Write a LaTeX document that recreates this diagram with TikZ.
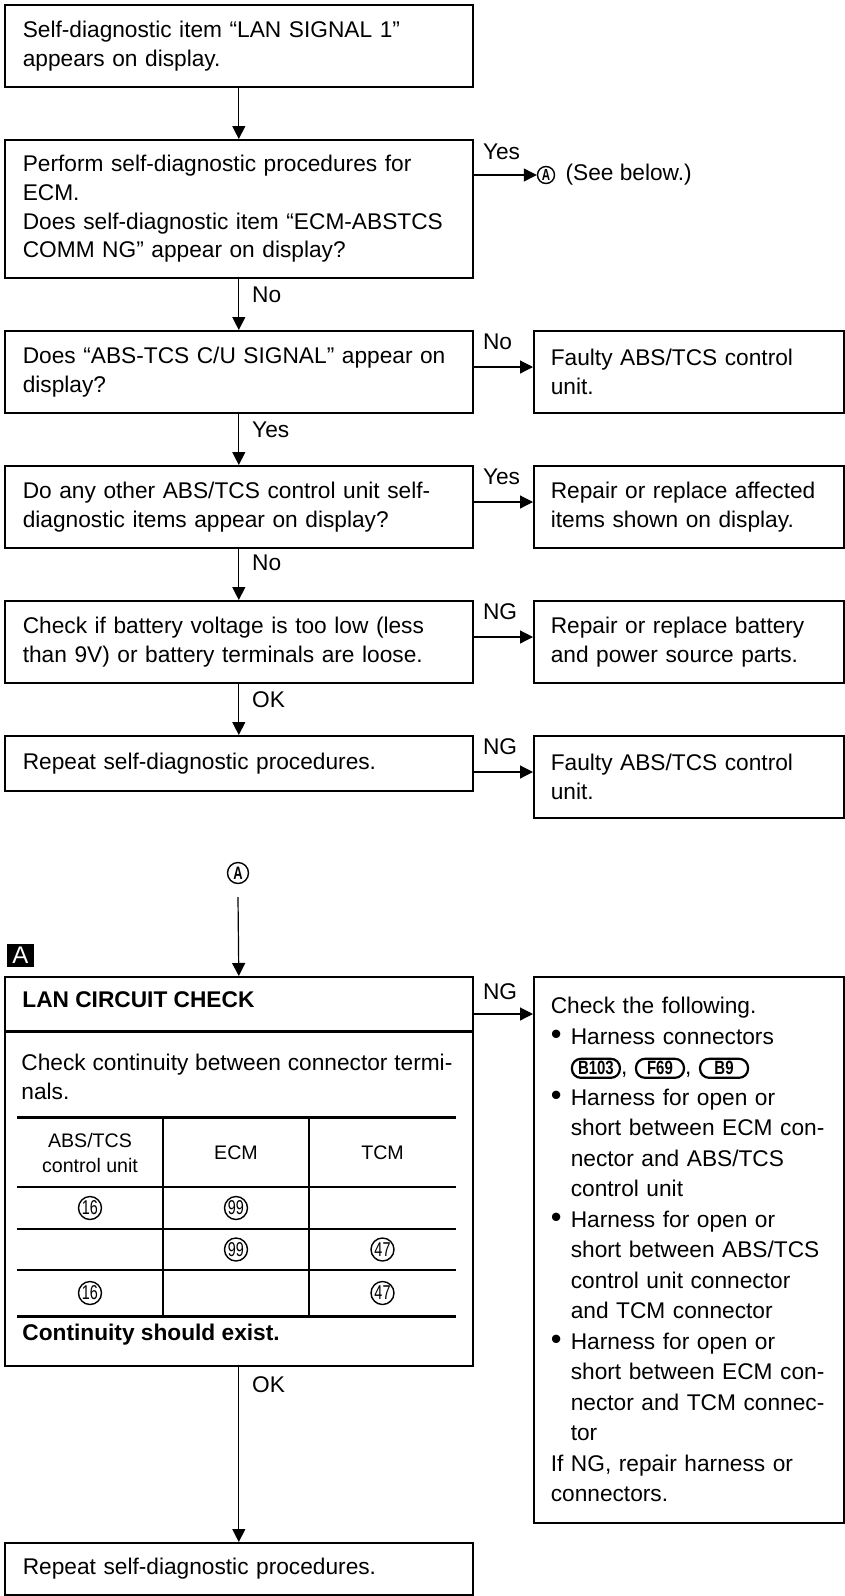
\documentclass[tikz,border=0pt]{standalone}
\usepackage{fontspec}
\setmainfont{Liberation Sans}
\usepackage{graphicx}
\usepackage{tikz}
\usetikzlibrary{positioning, arrows.meta, calc}

\newcommand{\bodyfont}{\fontsize{11.35}{14.4}\selectfont}
\newcommand{\cnum}[1]{\scalebox{0.72}[1]{#1}}
\newcommand{\bitem}{\noindent\hangindent=10pt\hangafter=1\makebox[10pt][l]{\scalebox{1.35}{\textbullet}}}
\newcommand{\conn}[1]{\tikz[baseline=(cn.base)]\node[connbox] (cn) {\scalebox{0.78}[1]{#1}};}

\tikzset{
  box/.style={draw, line width=0.8pt, anchor=north west, inner ysep=0pt, align=left, font=\bodyfont},
  lbox/.style={box, inner xsep=9pt, text width=216pt, minimum width=234pt},
  rbox/.style={box, inner xsep=8.5pt, text width=138pt, minimum width=155pt},
  arr/.style={line width=0.6pt, -{Triangle[length=6.5pt, width=6.5pt]}},
  lbl/.style={inner sep=0pt, font=\bodyfont},
  circ/.style={circle, draw, line width=0.7pt, inner sep=0pt},
  num/.style={circ, minimum size=11.5pt, font=\fontsize{10}{10}\selectfont},
  hdr/.style={inner sep=0pt, align=center, font=\fontsize{9.8}{12.5}\selectfont},
  connbox/.style={draw, line width=1.1pt, rounded corners=4.5pt, anchor=center, text width=, align=center,
    minimum width=24pt, minimum height=9.5pt, inner sep=0.6pt, font=\bfseries\fontsize{9.6}{9.6}\selectfont},
  thickrule/.style={line width=1.5pt},
  cell/.style={line width=0.6pt}
}

\begin{document}
\begin{tikzpicture}[x=0.5pt, y=-0.5pt]
\useasboundingbox (0,0) rectangle (845,1596);

\node[lbox, minimum height=41pt] (b1) at (4,4) {Self-diagnostic item “LAN SIGNAL 1”\\appears on display.};
\node[lbox, minimum height=69pt] (b2) at (4,139) {Perform self-diagnostic procedures for\\ECM.\\Does self-diagnostic item “ECM-ABSTCS\\COMM NG” appear on display?};
\node[lbox, minimum height=41pt] (b3) at (4,330) {Does “ABS-TCS C/U SIGNAL” appear on\\display?};
\node[rbox, minimum height=41pt] (r3) at (533,330) {Faulty ABS/TCS control\\unit.};
\node[lbox, minimum height=41pt] (b4) at (4,465) {Do any other ABS/TCS control unit self-\\diagnostic items appear on display?};
\node[rbox, minimum height=41pt] (r4) at (533,465) {Repair or replace affected\\items shown on display.};
\node[lbox, minimum height=41pt] (b5) at (4,600) {Check if battery voltage is too low (less\\than 9V) or battery terminals are loose.};
\node[rbox, minimum height=41pt] (r5) at (533,600) {Repair or replace battery\\and power source parts.};
\node[lbox, minimum height=27.5pt] (b6) at (4,735) {Repeat self-diagnostic procedures.};
\node[rbox, minimum height=41pt] (r6) at (533,735) {Faulty ABS/TCS control\\unit.};

\draw[arr] (b1) -- (b2);
\draw[arr] (b2) -- (b3);
\node[lbl, anchor=west] (no1) at ([xshift=6.5pt, yshift=-8pt]b2.south) {No};
\draw[arr] (b3) -- (b4);
\node[lbl, anchor=west] (yes2) at ([xshift=6.5pt, yshift=-8pt]b3.south) {Yes};
\draw[arr] (b4) -- (b5);
\node[lbl, anchor=west] (no3) at ([xshift=6.5pt, yshift=-7pt]b4.south) {No};
\draw[arr] (b5) -- (b6);
\node[lbl, anchor=west] (ok1) at ([xshift=6.5pt, yshift=-8pt]b5.south) {OK};

\node[circ, minimum size=8.5pt, font=\bfseries\fontsize{8}{8}\selectfont] (ca1) at (546,175) {\cnum{A}};
\draw[arr] ([yshift=-18pt]b2.north east) -- (ca1.west);
\node[lbl, anchor=west] (yes1) at ([xshift=4.5pt, yshift=-6.5pt]b2.north east) {Yes};
\node[lbl, right=5pt of ca1] (seeb) {(See below.)};

\draw[arr] ([yshift=-18.5pt]b3.north east) -- ([yshift=-18.5pt]r3.north west);
\node[lbl, anchor=west] (no2) at ([xshift=4.5pt, yshift=-6pt]b3.north east) {No};
\draw[arr] ([yshift=-18.5pt]b4.north east) -- ([yshift=-18.5pt]r4.north west);
\node[lbl, anchor=west] (yes3) at ([xshift=4.5pt, yshift=-6pt]b4.north east) {Yes};
\draw[arr] ([yshift=-18.5pt]b5.north east) -- ([yshift=-18.5pt]r5.north west);
\node[lbl, anchor=west] (ng1) at ([xshift=4.5pt, yshift=-6pt]b5.north east) {NG};
\draw[arr] ([yshift=-18.5pt]b6.north east) -- ([yshift=-18.5pt]r6.north west);
\node[lbl, anchor=west] (ng2) at ([xshift=4.5pt, yshift=-6pt]b6.north east) {NG};

\node[circ, minimum size=10.5pt, font=\bfseries\fontsize{9}{9}\selectfont] (ca2) at (238,873) {\cnum{A}};
\node[fill=black, text=white, minimum width=13.5pt, minimum height=11.5pt, inner sep=0pt, font=\fontsize{12}{12}\selectfont] (secA) at (20.5,955.5) {A};
\node[lbox, minimum height=194.5pt] (b7) at (4,976) {};
\draw[arr] ([yshift=-6.5pt]ca2.south) -- (b7.north);

\node[lbl, anchor=west, font=\bfseries\fontsize{11.35}{14.4}\selectfont] (t7) at (22,1000) {LAN CIRCUIT CHECK};
\draw[thickrule] (b7.west |- 0,1031) -- (b7.east |- 0,1031);
\node[lbl, anchor=north west, text width=215.5pt, align=justify] (c7) at (21,1054) {Check continuity between connector termi-\linebreak nals.};
\draw[thickrule] (17,1117) -- (456,1117);
\draw[thickrule] (17,1316) -- (456,1316);
\foreach \y in {1187,1229,1270} \draw[cell] (17,\y) -- (456,\y);
\foreach \x in {163,309} \draw[cell] (\x,1117) -- (\x,1316);
\node[hdr] (h1) at (90,1153) {ABS/TCS\\control unit};
\node[hdr] (h2) at (236,1153) {ECM};
\node[hdr] (h3) at (382.5,1153) {TCM};
\node[num] (n11) at (90,1208) {\cnum{16}};
\node[num] (n12) at (236,1208) {\cnum{99}};
\node[num] (n22) at (236,1249.5) {\cnum{99}};
\node[num] (n23) at (382.5,1249.5) {\cnum{47}};
\node[num] (n31) at (90,1293) {\cnum{16}};
\node[num] (n33) at (382.5,1293) {\cnum{47}};
\node[lbl, anchor=west, font=\bfseries\fontsize{11.35}{14.4}\selectfont] (e7) at (22,1335) {Continuity should exist.};

\node[rbox, minimum height=273pt, font=\fontsize{11.35}{15.25}\selectfont] (r7) at (533,976) {Check the following.\par
\bitem Harness connectors\newline \conn{B103}, \conn{F69}, \conn{B9}\par
\bitem Harness for open or\newline short between ECM con-\newline nector and ABS/TCS\newline control unit\par
\bitem Harness for open or\newline short between ABS/TCS\newline control unit connector\newline and TCM connector\par
\bitem Harness for open or\newline short between ECM con-\newline nector and TCM connec-\newline tor\par
If NG, repair harness or\newline connectors.};
\draw[arr] ([yshift=-19pt]b7.north east) -- ([yshift=-19pt]r7.north west);
\node[lbl, anchor=west] (ng3) at ([xshift=4.5pt, yshift=-8pt]b7.north east) {NG};

\node[lbox, minimum height=26pt] (b8) at (4,1542) {Repeat self-diagnostic procedures.};
\draw[arr] (b7) -- (b8);
\node[lbl, anchor=west] (ok2) at ([xshift=6.5pt, yshift=-9pt]b7.south) {OK};
\end{tikzpicture}
\end{document}
